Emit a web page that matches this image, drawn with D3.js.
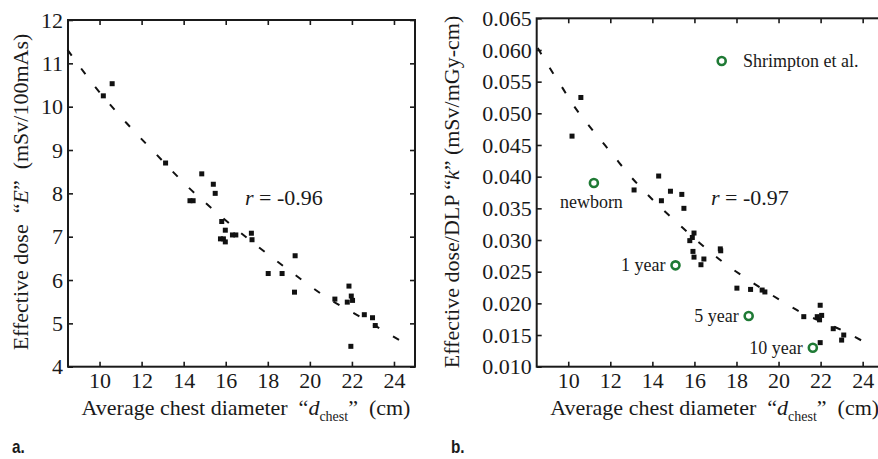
<!DOCTYPE html>
<html>
<head>
<meta charset="utf-8">
<script src="https://cdn.jsdelivr.net/npm/d3@7"></script>
<style>
  body { margin: 0; background: #fff; }
</style>
</head>
<body>
<script>
// panel a: effective dose E vs chest diameter
const chestA = [10.18, 10.6, 13.14, 14.3, 14.45, 14.86, 15.41, 15.5, 15.81, 15.98, 15.75, 15.89,
  15.98, 16.32, 16.48, 17.22, 17.25, 18.02, 18.68, 19.3, 19.27, 21.19, 21.86, 21.78, 21.97,
  22.03, 21.95, 22.59, 22.98, 23.11];
const doseA = [10.25, 10.53, 8.7, 7.83, 7.83, 8.45, 8.21, 8.0, 7.35, 7.15, 6.95, 6.95,
  6.88, 7.04, 7.04, 7.08, 6.93, 6.15, 6.15, 6.56, 5.72, 5.56, 5.86, 5.49, 5.63,
  5.53, 4.47, 5.2, 5.13, 4.95];
const fitChestA = [8.48, 9.84, 11.27, 12.7, 14.18, 15.68, 17.3, 18.97, 20.67, 22.46, 24.45];
const fitDoseA = [11.31, 10.43, 9.63, 8.9, 8.16, 7.51, 6.86, 6.24, 5.64, 5.13, 4.56];

// panel b: conversion factor k vs chest diameter
const chestB = [10.6, 10.18, 13.13, 14.3, 14.43, 14.86, 15.4, 15.5, 15.98, 15.9, 15.78,
  15.93, 15.98, 16.45, 16.31, 17.23, 17.25, 18.02, 18.67, 19.22, 19.35, 21.2, 21.98,
  21.84, 21.95, 22.05, 21.98, 22.6, 23.1, 23.0];
const kB = [0.0525, 0.0464, 0.0379, 0.0401, 0.0362, 0.0377, 0.0372, 0.035, 0.0311, 0.0304, 0.0299,
  0.0282, 0.0273, 0.027, 0.0261, 0.0286, 0.0283, 0.0224, 0.0222, 0.0221, 0.0218, 0.0179, 0.0197,
  0.0179, 0.0174, 0.0181, 0.0138, 0.016, 0.015, 0.0142];
const fitChestB = [8.55, 9.13, 9.69, 10.24, 10.9, 11.54, 12.18, 12.87, 13.56, 15.22, 16.65,
  17.52, 18.39, 20.13, 21.0, 22.98, 24.08];
const fitKB = [0.0603, 0.0571, 0.0542, 0.0513, 0.0484, 0.0458, 0.0432, 0.0404, 0.0379, 0.0326, 0.0284,
  0.0261, 0.0241, 0.0204, 0.0187, 0.0158, 0.0139];

// Shrimpton et al. reference points
const refLabels = ['newborn', '1 year', '5 year', '10 year'];
const refChest = [11.22, 15.1, 18.58, 21.63];
const refK = [0.039, 0.026, 0.018, 0.013];

const xTicks = [10, 12, 14, 16, 18, 20, 22, 24];
const yTicksA = [4, 5, 6, 7, 8, 9, 10, 11, 12];
const yTicksB = [0.010, 0.015, 0.020, 0.025, 0.030, 0.035, 0.040, 0.045, 0.050, 0.055, 0.060, 0.065];

const ink = '#1a1a1a';
const green = '#1f7a35';
const svg = d3.select('body').append('svg').attr('width', 878).attr('height', 459);

const addText = (sel, size) =>
  sel.append('text')
    .style('font-family', '"Liberation Serif"')
    .style('font-size', `${size}px`)
    .style('white-space', 'pre')
    .attr('fill', ink);

const drawPanel = (opt) => {
  const g = svg.append('g');
  const x = d3.scaleLinear().domain([8.5, 25]).range([opt.left, opt.left + 347]);
  const y = d3.scaleLinear().domain(opt.yDomain).range([366.7, opt.top]);

  g.append('g')
    .attr('transform', 'translate(0,366.7)')
    .call(d3.axisBottom(x).tickValues(xTicks).tickSizeInner(-5).tickSizeOuter(0).tickPadding(6))
    .call((a) => a.select('.domain').remove());
  g.append('g')
    .attr('transform', `translate(0,${opt.top})`)
    .call(d3.axisTop(x).tickValues(xTicks).tickSizeInner(-5).tickSizeOuter(0).tickFormat(''))
    .call((a) => a.select('.domain').remove());
  g.append('g')
    .attr('transform', `translate(${opt.left},0)`)
    .call(d3.axisLeft(y).tickValues(opt.yTicks).tickSizeInner(-5).tickSizeOuter(0).tickPadding(5).tickFormat(opt.fmt))
    .call((a) => a.select('.domain').remove());
  g.append('g')
    .attr('transform', `translate(${opt.left + 347},0)`)
    .call(d3.axisRight(y).tickValues(opt.yTicks).tickSizeInner(-5).tickSizeOuter(0).tickFormat(''))
    .call((a) => a.select('.domain').remove());

  g.selectAll('g.tick line').attr('stroke', ink).attr('stroke-width', 1.6);
  g.selectAll('g.tick text')
    .style('font-family', '"Liberation Serif"')
    .style('font-size', '22px')
    .attr('fill', ink);

  g.append('rect')
    .attr('x', opt.left).attr('y', opt.top)
    .attr('width', 347).attr('height', 366.7 - opt.top)
    .attr('fill', 'none').attr('stroke', ink).attr('stroke-width', 2);

  const line = d3.line().x((d) => x(d[0])).y((d) => y(d[1])).curve(d3.curveMonotoneX);
  g.append('path')
    .datum(d3.zip(opt.fitX, opt.fitY))
    .attr('d', line)
    .attr('fill', 'none')
    .attr('stroke', '#111')
    .attr('stroke-width', 2)
    .attr('stroke-dasharray', '7,16');

  g.selectAll('rect.pt')
    .data(d3.zip(opt.xs, opt.ys))
    .enter()
    .append('rect')
    .attr('class', 'pt')
    .attr('x', (d) => x(d[0]) - 2.5)
    .attr('y', (d) => y(d[1]) - 2.5)
    .attr('width', 5)
    .attr('height', 5)
    .attr('fill', '#111');

  // r label
  const rt = addText(g, 22).attr('x', opt.rPos[0]).attr('y', opt.rPos[1]);
  rt.append('tspan').style('font-style', 'italic').text('r');
  rt.append('tspan').text(` = ${opt.r}`);

  // x axis title
  const xt = addText(g, 22)
    .attr('x', opt.left + 178).attr('y', 415)
    .attr('text-anchor', 'middle');
  xt.append('tspan').text('Average chest diameter  \u201c');
  xt.append('tspan').style('font-style', 'italic').text('d');
  xt.append('tspan').attr('dy', 6).style('font-size', '14px').text('chest');
  xt.append('tspan').attr('dy', -6).text('\u201d  (cm)');

  // y axis title
  const yt = addText(g, 22)
    .attr('transform', `translate(${opt.yTitleX},192) rotate(-90)`)
    .attr('text-anchor', 'middle');
  yt.append('tspan').text(opt.yTitle[0]);
  yt.append('tspan').style('font-style', 'italic').text(opt.yTitle[1]);
  yt.append('tspan').text(opt.yTitle[2]);

  g.append('text')
    .attr('transform', `translate(${opt.tagX},453) scale(0.85,1)`)
    .style('font-family', '"Liberation Sans"')
    .style('font-weight', 'bold')
    .style('font-size', '18px')
    .attr('fill', ink)
    .text(opt.tag);

  return { g, x, y };
};

drawPanel({
  left: 68, top: 20, yDomain: [4, 12], yTicks: yTicksA, fmt: d3.format('d'),
  xs: chestA, ys: doseA, fitX: fitChestA, fitY: fitDoseA,
  r: '-0.96', rPos: [245, 205], yTitleX: 28,
  yTitle: ['Effective dose  \u201c', 'E', '\u201d  (mSv/100mAs)'],
  tag: 'a.', tagX: 12
});

const pb = drawPanel({
  left: 536.7, top: 18.3, yDomain: [0.010, 0.065], yTicks: yTicksB, fmt: d3.format('.3f'),
  xs: chestB, ys: kB, fitX: fitChestB, fitY: fitKB,
  r: '-0.97', rPos: [711, 205], yTitleX: 459,
  yTitle: ['Effective dose/DLP \u201c', 'k', '\u201d (mSv/mGy-cm)'],
  tag: 'b.', tagX: 451
});

// Shrimpton et al. points and labels
pb.g.selectAll('circle.ref')
  .data(d3.zip(refChest, refK, refLabels))
  .enter()
  .append('circle')
  .attr('class', 'ref')
  .attr('cx', (d) => pb.x(d[0]))
  .attr('cy', (d) => pb.y(d[1]))
  .attr('r', 4)
  .attr('fill', 'none')
  .attr('stroke', green)
  .attr('stroke-width', 2.6);

const refText = [[-34, 25], [-10, 6], [-10, 6], [-10, 6]];
refLabels.forEach((label, i) => {
  addText(pb.g, 18)
    .attr('x', pb.x(refChest[i]) + refText[i][0])
    .attr('y', pb.y(refK[i]) + refText[i][1])
    .attr('text-anchor', i === 0 ? 'start' : 'end')
    .text(label);
});

// legend
pb.g.append('circle')
  .attr('cx', 721.7).attr('cy', 61).attr('r', 4)
  .attr('fill', 'none').attr('stroke', green).attr('stroke-width', 2.6);
addText(pb.g, 18).attr('x', 743).attr('y', 67).text('Shrimpton et al.');
</script>
</body>
</html>
